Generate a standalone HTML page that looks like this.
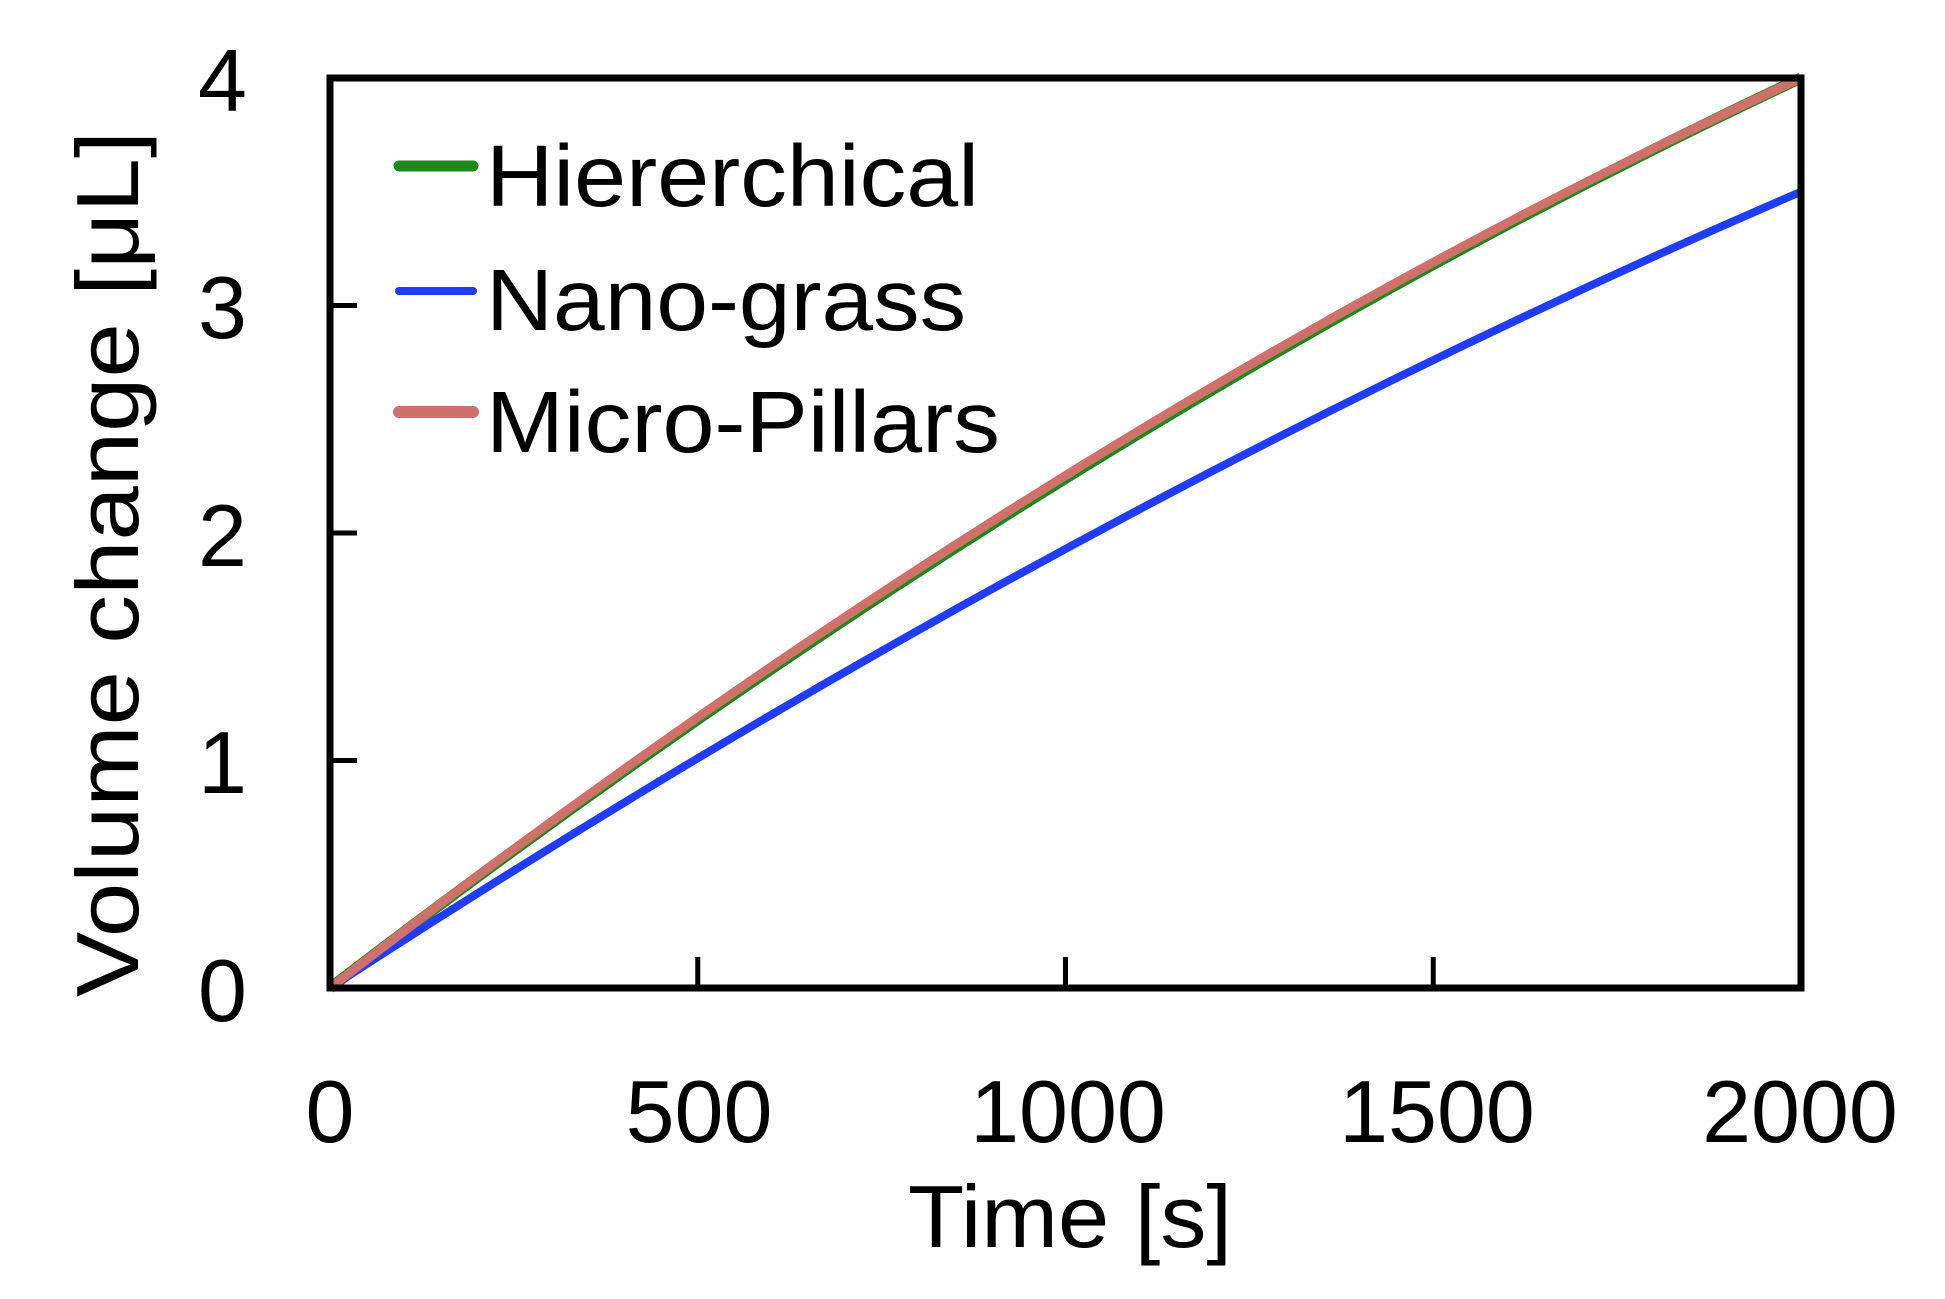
<!DOCTYPE html>
<html><head><meta charset="utf-8"><style>
html,body{margin:0;padding:0;background:#fff;}
svg{display:block;}
text{font-family:"Liberation Sans",Arial,sans-serif;fill:#000;}
</style></head><body>
<svg width="1945" height="1299" viewBox="0 0 1945 1299" xmlns="http://www.w3.org/2000/svg">
<rect width="1945" height="1299" fill="#fff"/>
<path d="M330,988 Q1065.5,423.8 1801,78" fill="none" stroke="#1a8a1a" stroke-width="11"/>
<path d="M330,988 Q1065.5,508 1801,191.75" fill="none" stroke="#1f3cff" stroke-width="8"/>
<path d="M330,988 Q1065.5,418 1801,78" fill="none" stroke="#d0706a" stroke-width="9"/>
<rect x="330" y="78" width="1471" height="910" fill="none" stroke="#000" stroke-width="7"/>
<g stroke="#000" stroke-width="5">
<line x1="697.75" y1="988" x2="697.75" y2="957"/>
<line x1="1065.5" y1="988" x2="1065.5" y2="957"/>
<line x1="1433.25" y1="988" x2="1433.25" y2="957"/>
<line x1="330" y1="760.5" x2="357" y2="760.5"/>
<line x1="330" y1="533" x2="357" y2="533"/>
<line x1="330" y1="305.5" x2="357" y2="305.5"/>
</g>
<g font-size="88" text-anchor="end">
<text x="247" y="1021">0</text>
<text x="247" y="793">1</text>
<text x="247" y="566">2</text>
<text x="247" y="338">3</text>
<text x="247" y="111">4</text>
</g>
<g font-size="88" text-anchor="middle">
<text x="330" y="1142">0</text>
<text x="699" y="1142">500</text>
<text x="1068" y="1142">1000</text>
<text x="1437" y="1142">1500</text>
<text x="1800" y="1142">2000</text>
</g>
<text x="1070" y="1247" font-size="88" text-anchor="middle" textLength="324" lengthAdjust="spacingAndGlyphs">Time [s]</text>
<text transform="translate(138,564) rotate(-90)" font-size="88" text-anchor="middle" textLength="866" lengthAdjust="spacingAndGlyphs">Volume change  [μL]</text>
<line x1="399" y1="166" x2="473" y2="166" stroke="#1a8a1a" stroke-width="11" stroke-linecap="round"/>
<line x1="399" y1="291" x2="473" y2="291" stroke="#1f3cff" stroke-width="8" stroke-linecap="round"/>
<line x1="399" y1="412" x2="473" y2="412" stroke="#d0706a" stroke-width="12" stroke-linecap="round"/>
<g font-size="87">
<text x="486" y="206" textLength="493" lengthAdjust="spacingAndGlyphs">Hiererchical</text>
<text x="486" y="330" textLength="480" lengthAdjust="spacingAndGlyphs">Nano-grass</text>
<text x="486" y="452" textLength="514" lengthAdjust="spacingAndGlyphs">Micro-Pillars</text>
</g>
</svg>
</body></html>
